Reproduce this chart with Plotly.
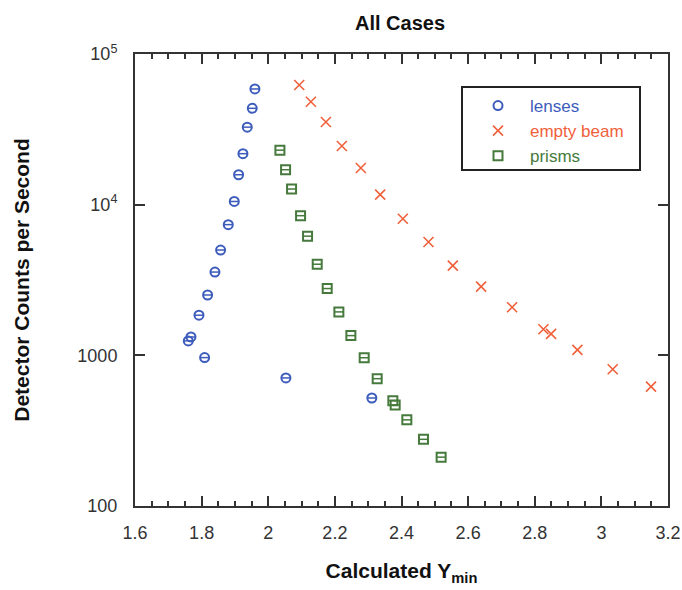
import plotly.graph_objects as go

# Calculated Y_min vs detector count rate for each configuration
lenses_x = [1.960, 1.952, 1.937, 1.924, 1.911, 1.898, 1.880, 1.857, 1.840,
            1.818, 1.792, 1.768, 1.760, 1.809, 2.053, 2.311]
lenses_y = [58600, 43600, 32700, 21800, 15800, 10500, 7370, 5000, 3570,
            2515, 1846, 1324, 1247, 966, 708, 521]

beam_x = [2.093, 2.128, 2.173, 2.221, 2.278, 2.336, 2.404, 2.481, 2.554,
          2.639, 2.732, 2.826, 2.849, 2.928, 3.034, 3.149]
beam_y = [62300, 48200, 35400, 24500, 17500, 11650, 8070, 5650, 3935,
          2855, 2084, 1489, 1387, 1086, 809, 620]

prisms_x = [2.035, 2.052, 2.070, 2.097, 2.118, 2.147, 2.177, 2.212, 2.248,
            2.288, 2.327, 2.374, 2.381, 2.416, 2.466, 2.519]
prisms_y = [23000, 17060, 12700, 8450, 6180, 4025, 2775, 1942, 1352,
            964, 700, 500, 469, 373, 277, 211]

y_tickvals = [100, 1000, 10000, 100000]
y_ticktext = ["100", "1000", "10<sup>4</sup>", "10<sup>5</sup>"]

BLUE = "#3d5cbc"
ORANGE = "#f0603a"
GREEN = "#467a3c"
FONT = "Arial, Liberation Sans"

fig = go.Figure()

series = [
    ("lenses", lenses_x, lenses_y, BLUE, "circle-open", 9, 2.0),
    ("empty beam", beam_x, beam_y, ORANGE, "x-thin-open", 10, 1.6),
    ("prisms", prisms_x, prisms_y, GREEN, "square-open", 9, 2.0),
]

for name, xs, ys, color, symbol, size, lw in series:
    fig.add_trace(go.Scatter(
        x=xs, y=ys, mode="markers",
        name=f"<span style='color:{color}'>{name}</span>",
        marker=dict(symbol=symbol, size=size, color=color,
                    line=dict(color=color, width=lw)),
    ))

# centre bar inside the open circle and square markers
for xs, ys, color in [(lenses_x, lenses_y, BLUE), (prisms_x, prisms_y, GREEN)]:
    fig.add_trace(go.Scatter(
        x=xs, y=ys, mode="markers", showlegend=False, hoverinfo="skip",
        marker=dict(symbol="line-ew-open", size=6, color=color,
                    line=dict(color=color, width=1.5)),
    ))

axis_common = dict(
    showline=True, linecolor="#333333", linewidth=2, mirror="allticks",
    ticks="inside", ticklen=10, tickwidth=1.5, tickcolor="#333333",
    showgrid=False, zeroline=False, automargin=False,
    tickfont=dict(family=FONT, size=18, color="#333333"),
)

fig.update_xaxes(
    range=[1.6, 3.2], dtick=0.2, tick0=1.6, tickformat="~g",
    minor=dict(dtick=0.05, tick0=1.6, ticks="inside", ticklen=5,
               tickwidth=1.5, tickcolor="#333333"),
    ticklabelstandoff=9,
    title=dict(text="Calculated Y<sub>min</sub>", standoff=22,
               font=dict(family=FONT, size=21, color="#111111",
                         weight="bold")),
    **axis_common,
)
fig.update_yaxes(
    type="log", range=[2, 5], tickvals=y_tickvals, ticktext=y_ticktext,
    ticklabelstandoff=12,
    title=dict(text="Detector Counts per Second", standoff=42,
               font=dict(family=FONT, size=21, color="#111111",
                         weight="bold")),
    **axis_common,
)

fig.update_layout(
    width=682, height=590,
    margin=dict(l=135, r=14, t=54, b=84, autoexpand=False),
    paper_bgcolor="white", plot_bgcolor="white",
    title=dict(text="All Cases", x=400 / 682, xanchor="center",
               y=1 - 23 / 590, yanchor="middle",
               font=dict(family=FONT, size=20, color="#111111",
                         weight="bold")),
    showlegend=True,
    legend=dict(x=(466 - 135) / 533, y=(506 - 88) / 452,
                xanchor="left", yanchor="top", itemwidth=54,
                bgcolor="rgba(0,0,0,0)", borderwidth=0,
                font=dict(family=FONT, size=17)),
    shapes=[dict(type="rect", xref="paper", yref="paper",
                 x0=(462 - 135) / 533, x1=(640 - 135) / 533,
                 y0=(506 - 170) / 452, y1=(506 - 87) / 452,
                 line=dict(color="#222222", width=2))],
)

fig.write_html("out.html")
